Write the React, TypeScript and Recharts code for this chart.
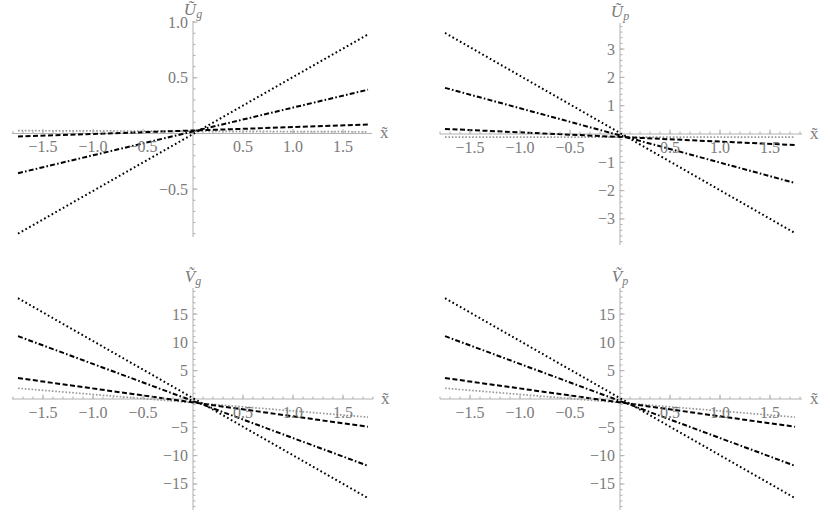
import { LineChart, Line, XAxis, YAxis, ReferenceLine, ReferenceDot } from 'recharts';

// x end points of every curve
const xEnds = [-1.75, 1.75];

// Ũ_g
const ugDotted = [-0.9, 0.89];
const ugDotDashed = [-0.357, 0.393];
const ugDashed = [-0.027, 0.08];
const ugGray = [0.025, 0.015];

// Ũ_p
const upDotted = [3.57, -3.5];
const upDotDashed = [1.63, -1.73];
const upDashed = [0.18, -0.39];
const upGray = [-0.11, -0.11];

// Ṽ_g
const vgDotted = [17.8, -17.5];
const vgDotDashed = [11.1, -11.8];
const vgDashed = [3.7, -4.9];
const vgGray = [1.9, -3.2];

// Ṽ_p
const vpDotted = [17.8, -17.5];
const vpDotDashed = [11.1, -11.8];
const vpDashed = [3.7, -4.9];
const vpGray = [1.9, -3.2];

const xTicks = [-1.5, -1.0, -0.5, 0.5, 1.0, 1.5];
const ugTicks = [-0.5, 0.5, 1.0];
const upTicks = [-3, -2, -1, 1, 2, 3];
const vTicks = [-15, -10, -5, 5, 10, 15];

const AXIS = '#b0b0b0';
const LABEL = '#7a7a7a';
const FONT = '"Liberation Serif", "DejaVu Serif", serif';

const makeRows = (dotted: number[], dotDashed: number[], dashed: number[], gray: number[]) =>
  xEnds.map((x, i) => ({ x, dotted: dotted[i], dotDashed: dotDashed[i], dashed: dashed[i], gray: gray[i] }));

const fmt = (v: number, digits: number) => (v < 0 ? '\u2212' : '') + Math.abs(v).toFixed(digits);

const minorTicks = (lo: number, hi: number, step: number) => {
  const out: number[] = [];
  for (let i = Math.ceil(lo / step); i * step <= hi; i++) {
    const v = +(i * step).toFixed(4);
    if (v !== 0) out.push(v);
  }
  return out;
};

function Panel({ left, top, width, height, margin, xDomain, yDomain, rows, yMajor, yMinorStep, yDigits, title, sub }: any) {
  const xMinor = minorTicks(xDomain[0], xDomain[1], 0.1);
  const yMinor = minorTicks(yDomain[0], yDomain[1], yMinorStep);
  return (
    <div style={{ position: 'absolute', left, top }}>
      <LineChart width={width} height={height} data={rows} margin={margin}>
        <XAxis type="number" dataKey="x" domain={xDomain} allowDataOverflow hide />
        <YAxis type="number" domain={yDomain} allowDataOverflow hide />
        <ReferenceLine y={0} stroke={AXIS} strokeWidth={1} />
        <ReferenceLine x={0} stroke={AXIS} strokeWidth={1} />
        {xMinor.map((v) => (
          <ReferenceDot key={'xm' + v} x={v} y={0} ifOverflow="visible"
            shape={(p: any) => <line x1={p.cx} y1={p.cy} x2={p.cx} y2={p.cy - 2.5} stroke={AXIS} />} />
        ))}
        {yMinor.map((v) => (
          <ReferenceDot key={'ym' + v} x={0} y={v} ifOverflow="visible"
            shape={(p: any) => <line x1={p.cx} y1={p.cy} x2={p.cx + 2.5} y2={p.cy} stroke={AXIS} />} />
        ))}
        {xTicks.map((v) => (
          <ReferenceDot key={'xM' + v} x={v} y={0} ifOverflow="visible"
            shape={(p: any) => (
              <g>
                <line x1={p.cx} y1={p.cy} x2={p.cx} y2={p.cy - 4.5} stroke={AXIS} />
                <text x={p.cx} y={p.cy + 19} textAnchor="middle" fontFamily={FONT} fontSize={16} fill={LABEL}>{fmt(v, 1)}</text>
              </g>
            )} />
        ))}
        {yMajor.map((v: number) => (
          <ReferenceDot key={'yM' + v} x={0} y={v} ifOverflow="visible"
            shape={(p: any) => (
              <g>
                <line x1={p.cx} y1={p.cy} x2={p.cx + 4.5} y2={p.cy} stroke={AXIS} />
                <text x={p.cx - 5} y={p.cy + 5.5} textAnchor="end" fontFamily={FONT} fontSize={16} fill={LABEL}>{fmt(v, yDigits)}</text>
              </g>
            )} />
        ))}
        <ReferenceDot x={xDomain[1]} y={0} ifOverflow="visible"
          shape={(p: any) => (
            <text x={p.cx + 8} y={p.cy + 5} fontFamily={FONT} fontSize={17} fill={LABEL}>x̃</text>
          )} />
        <ReferenceDot x={0} y={yDomain[1]} ifOverflow="visible"
          shape={(p: any) => (
            <text x={p.cx} y={p.cy - 6} textAnchor="middle" fontFamily={FONT} fontStyle="italic" fontSize={17} fill={LABEL}>
              {title}<tspan fontSize={12} dy={3}>{sub}</tspan>
            </text>
          )} />
        <Line type="linear" dataKey="gray" stroke="#999" strokeWidth={1.7} strokeDasharray="1.6 1.8" dot={false} isAnimationActive={false} />
        <Line type="linear" dataKey="dashed" stroke="#000" strokeWidth={2} strokeDasharray="5 2.5" dot={false} isAnimationActive={false} />
        <Line type="linear" dataKey="dotDashed" stroke="#000" strokeWidth={2} strokeDasharray="5 2.2 1.6 2.2" dot={false} isAnimationActive={false} />
        <Line type="linear" dataKey="dotted" stroke="#000" strokeWidth={2} strokeDasharray="1.7 2.6" dot={false} isAnimationActive={false} />
      </LineChart>
    </div>
  );
}

export default function App() {
  return (
    <div style={{ position: 'absolute', left: 0, top: 0, width: 830, height: 513, background: '#fff', overflow: 'hidden' }}>
      <Panel left={0} top={0} width={415} height={250}
        margin={{ top: 21, left: 12, right: 43, bottom: 13 }}
        xDomain={[-1.81, 1.79]} yDomain={[-0.93, 1.01]}
        rows={makeRows(ugDotted, ugDotDashed, ugDashed, ugGray)}
        yMajor={ugTicks} yMinorStep={0.1} yDigits={1} title="Ũ" sub="g" />
      <Panel left={415} top={0} width={415} height={250}
        margin={{ top: 23, left: 25, right: 28, bottom: 5 }}
        xDomain={[-1.8, 1.82]} yDomain={[-3.92, 3.92]}
        rows={makeRows(upDotted, upDotDashed, upDashed, upGray)}
        yMajor={upTicks} yMinorStep={0.2} yDigits={0} title="Ũ" sub="p" />
      <Panel left={0} top={256} width={415} height={257}
        margin={{ top: 32, left: 12, right: 42, bottom: 3 }}
        xDomain={[-1.81, 1.8]} yDomain={[-19.6, 19.6]}
        rows={makeRows(vgDotted, vgDotDashed, vgDashed, vgGray)}
        yMajor={vTicks} yMinorStep={1} yDigits={0} title="Ṽ" sub="g" />
      <Panel left={415} top={256} width={415} height={257}
        margin={{ top: 32, left: 25, right: 28, bottom: 3 }}
        xDomain={[-1.8, 1.82]} yDomain={[-19.6, 19.6]}
        rows={makeRows(vpDotted, vpDotDashed, vpDashed, vpGray)}
        yMajor={vTicks} yMinorStep={1} yDigits={0} title="Ṽ" sub="p" />
    </div>
  );
}
